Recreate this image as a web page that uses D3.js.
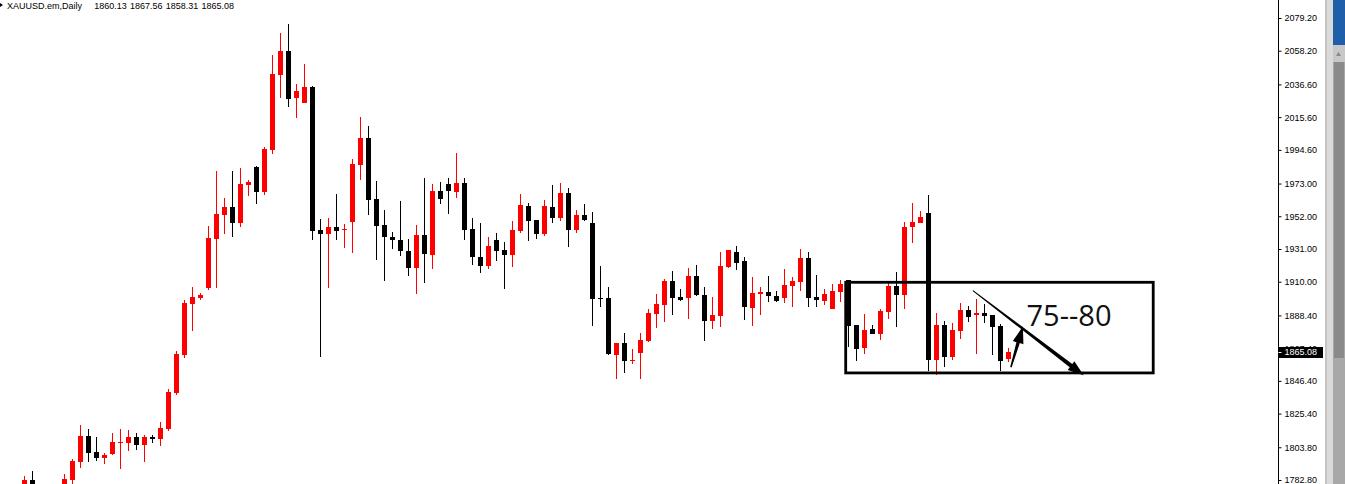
<!DOCTYPE html>
<html>
<head>
<meta charset="utf-8">
<script src="https://cdn.jsdelivr.net/npm/d3@7"></script>
<style>
html,body{margin:0;padding:0;background:#fff;overflow:hidden;}
svg{display:block;}
</style>
</head>
<body>
<svg id="chart" width="1345" height="484"></svg>
<script>
// ---- data (daily OHLC) ----
const opens = [1776.39,1782.80,1775.00,1771.00,1774.00,1777.00,1783.00,1794.54,1811.03,1800.76,
1797.11,1799.67,1806.73,1806.73,1810.39,1805.45,1810.39,1809.30,1815.71,1838.81,
1863.00,1895.91,1899.76,1905.98,1937.61,1953.01,1957.95,1947.87,1972.25,1983.61,
1967.38,1994.71,2042.82,2058.03,2028.07,2024.86,2034.93,1943.38,1940.82,1945.12,
1943.40,1948.52,1985.08,2002.21,1963.08,1946.40,1938.89,1936.78,1929.72,1919.00,
1939.98,1927.35,1968.21,1972.70,1967.76,1973.35,1943.83,1925.87,1920.29,1936.78,
1930.36,1927.35,1942.74,1958.59,1949.61,1940.82,1957.95,1951.08,1966.93,1943.38,
1952.81,1947.68,1899.70,1899.57,1863.00,1870.69,1859.40,1864.28,1871.98,1889.30,
1895.07,1910.47,1900.21,1899.57,1913.68,1901.49,1884.81,1888.02,1919.45,1929.07,
1923.30,1893.15,1902.33,1903.42,1900.85,1899.57,1907.26,1909.83,1925.23,1900.21,
1897.64,1892.51,1903.42,1911.11,1882.24,1867.49,1879.67,1876.47,1890.58,1907.26,
1901.49,1945.12,1947.68,1954.10,1859.79,1882.24,1861.71,1878.39,1891.87,1888.66,
1889.94,1888.66,1881.60,1860.13];
const highs = [1785.37,1788.58,1778.00,1776.00,1779.00,1786.46,1796.27,1818.09,1815.52,1810.39,
1800.12,1812.95,1815.52,1814.88,1812.95,1811.67,1811.67,1820.01,1841.18,1865.56,
1898.28,1906.62,1902.78,1945.76,1981.04,1963.72,1981.04,1982.97,1975.27,1984.45,
1996.44,2055.46,2069.58,2075.35,2036.86,2049.69,2035.57,1950.25,1950.89,1966.29,
1947.04,1988.74,2015.69,2009.91,1974.63,1956.02,1941.72,1961.79,1937.42,1946.40,
1976.55,1972.70,1973.99,1976.55,1992.60,1976.55,1950.89,1947.68,1938.70,1941.26,
1935.49,1948.97,1966.29,1960.51,1949.61,1962.44,1972.06,1973.35,1970.14,1956.02,
1959.87,1954.74,1920.09,1906.62,1870.69,1877.11,1866.84,1877.11,1892.51,1902.13,
1911.75,1916.88,1905.34,1918.81,1920.74,1906.62,1900.21,1929.07,1930.36,1932.93,
1925.87,1913.04,1906.62,1913.68,1904.06,1918.17,1913.04,1930.99,1929.07,1914.32,
1905.34,1908.55,1911.11,1911.11,1882.24,1889.30,1882.24,1892.51,1909.19,1916.24,
1948.33,1960.51,1955.38,1965.65,1889.94,1884.81,1883.53,1896.36,1894.43,1898.92,
1895.71,1888.66,1882.88,1867.56];
const lows = [1774.46,1773.18,1768.00,1766.00,1770.00,1775.00,1780.43,1790.69,1794.54,1795.18,
1793.26,1799.03,1790.05,1801.60,1802.24,1794.54,1806.73,1804.81,1814.43,1837.53,
1861.26,1878.39,1898.47,1904.89,1906.17,1940.62,1938.89,1945.31,1965.20,1960.06,
1965.84,1992.14,2028.07,2022.30,2015.24,2024.86,1936.97,1861.91,1906.17,1936.97,
1931.84,1928.63,1975.46,1953.01,1924.14,1910.66,1931.20,1926.70,1913.87,1902.32,
1909.38,1918.36,1960.06,1953.65,1963.91,1936.97,1920.93,1915.79,1918.36,1923.50,
1905.53,1919.64,1941.46,1936.33,1937.61,1939.54,1947.87,1949.16,1932.48,1941.46,
1949.16,1881.79,1893.98,1863.00,1847.79,1851.64,1857.41,1847.79,1871.34,1880.31,
1884.17,1888.66,1897.64,1886.09,1900.85,1871.98,1879.67,1880.96,1918.81,1917.53,
1885.45,1881.60,1888.66,1897.00,1897.00,1896.36,1893.79,1904.06,1893.79,1893.79,
1895.07,1892.51,1897.00,1868.32,1859.15,1863.64,1876.47,1872.62,1886.09,1880.96,
1892.51,1934.85,1947.68,1852.73,1850.16,1855.29,1859.79,1873.26,1884.17,1863.64,
1883.53,1863.00,1852.73,1858.31];
const closes = [1782.80,1775.10,1771.00,1774.00,1776.00,1783.43,1794.99,1811.03,1800.32,1797.11,
1798.84,1807.18,1807.37,1810.39,1805.45,1810.39,1809.30,1816.16,1839.26,1863.64,
1896.36,1900.21,1901.69,1938.06,1953.46,1957.95,1947.87,1972.70,1974.18,1967.76,
1995.16,2043.27,2058.03,2027.43,2032.37,2034.93,1942.74,1940.82,1945.12,1942.74,
1943.70,1985.53,2002.21,1962.63,1945.95,1938.89,1936.97,1929.91,1919.00,1939.98,
1928.00,1968.21,1963.27,1968.40,1973.35,1943.38,1926.06,1920.29,1932.93,1929.91,
1927.35,1943.19,1959.23,1949.16,1940.82,1958.59,1951.08,1966.93,1943.38,1952.81,
1949.80,1899.12,1899.40,1863.64,1870.69,1859.15,1859.80,1872.62,1889.94,1895.71,
1910.47,1899.57,1898.28,1913.68,1901.49,1884.81,1888.66,1920.09,1930.36,1922.01,
1893.79,1902.78,1903.42,1900.85,1897.64,1907.90,1910.47,1925.23,1899.57,1898.28,
1902.13,1904.06,1908.55,1881.79,1866.84,1879.04,1876.47,1891.22,1907.26,1901.49,
1945.12,1948.33,1951.53,1859.79,1882.24,1861.71,1879.04,1891.87,1887.38,1889.94,
1888.02,1880.96,1859.15,1865.08];
const tickValues = [2079.20,2058.20,2036.60,2015.60,1994.60,1973.00,1952.00,1931.00,1910.00,1888.40,1867.40,1846.40,1825.40,1803.80,1782.80];
const symbolTitle = "XAUUSD.em,Daily";
const titleValues = ["1860.13","1867.56","1858.31","1865.08"];
const lastPrice = 1865.08;
// annotation (bar index / price)
const boxRange = {i0: 102.65, i1: 141.09, p0: 1909.64, p1: 1851.5};
const longArrow = {i0: 118.55, p0: 1904.25, i1: 132.4, p1: 1850.0};
const shortArrow = {i0: 123.3, p0: 1855.1, i1: 124.8, p1: 1881.4};
const noteText = {i: 125.25, p: 1881.9, text: "75--80"};

// ---- scales ----
const W = 1345, H = 484, axisX = 1278.5;
const x = d3.scaleLinear().domain([0, 1]).range([24.5, 32.5]);
const y = d3.scaleLinear().domain([1782.8, 2079.2]).range([480, 18]);

const svg = d3.select("#chart");
svg.append("rect").attr("width", W).attr("height", H).attr("fill", "#fff");

const candles = opens.map((o, i) => ({i, o, h: highs[i], l: lows[i], c: closes[i]}));
const gC = svg.append("g").attr("clip-path", "url(#clip)");
svg.append("defs").append("clipPath").attr("id", "clip")
  .append("rect").attr("x", 0).attr("y", 0).attr("width", axisX - 0.5).attr("height", H);

const col = d => d.c > d.o ? "#ff0000" : "#000000";
gC.selectAll("rect.wick").data(candles).join("rect").attr("class", "wick")
  .attr("x", d => x(d.i) - 0.5)
  .attr("y", d => Math.round(y(d.h)))
  .attr("width", 1)
  .attr("height", d => Math.max(1, Math.round(y(d.l)) - Math.round(y(d.h))))
  .attr("fill", col);
gC.selectAll("rect.body").data(candles).join("rect").attr("class", "body")
  .attr("x", d => x(d.i) - 2.5)
  .attr("y", d => Math.round(y(Math.max(d.o, d.c))))
  .attr("width", 5)
  .attr("height", d => Math.max(1, Math.round(y(Math.min(d.o, d.c))) - Math.round(y(Math.max(d.o, d.c)))))
  .attr("fill", col);

// ---- annotations ----
const bx0 = x(boxRange.i0), bx1 = x(boxRange.i1), by0 = y(boxRange.p0), by1 = y(boxRange.p1);
gC.append("rect").attr("x", bx0).attr("y", by0).attr("width", bx1 - bx0).attr("height", by1 - by0)
  .attr("fill", "none").attr("stroke", "#000").attr("stroke-width", 2.8);

function arrowPoly(x0, y0, x1, y1, w0, w1, headLen, headHalf) {
  const dx = x1 - x0, dy = y1 - y0, len = Math.hypot(dx, dy);
  const ux = dx / len, uy = dy / len, nx = -uy, ny = ux;
  const bX = x1 - ux * headLen, bY = y1 - uy * headLen;
  const pts = [
    [x0 + nx * w0 / 2, y0 + ny * w0 / 2],
    [bX + nx * w1 / 2, bY + ny * w1 / 2],
    [bX + nx * headHalf, bY + ny * headHalf],
    [x1, y1],
    [bX - nx * headHalf, bY - ny * headHalf],
    [bX - nx * w1 / 2, bY - ny * w1 / 2],
    [x0 - nx * w0 / 2, y0 - ny * w0 / 2]
  ];
  return pts.map(p => p.join(",")).join(" ");
}
gC.append("polygon")
  .attr("points", arrowPoly(x(longArrow.i0), y(longArrow.p0), x(longArrow.i1), y(longArrow.p1), 1, 4.2, 16, 5.5))
  .attr("fill", "#000");
gC.append("polygon")
  .attr("points", arrowPoly(x(shortArrow.i0), y(shortArrow.p0), x(shortArrow.i1), y(shortArrow.p1), 1.5, 3.5, 17, 5.5))
  .attr("fill", "#000");
gC.append("text").attr("x", x(noteText.i)).attr("y", y(noteText.p))
  .attr("font-family", "'Open Sans', 'Noto Sans', sans-serif").attr("font-size", 29)
  .attr("fill", "#111").text(noteText.text);

// ---- right price axis ----
const axis = d3.axisRight(y).tickValues(tickValues).tickSize(3).tickPadding(3)
  .tickFormat(d => d.toFixed(2));
const gA = svg.append("g").attr("transform", `translate(${axisX},0)`).call(axis);
gA.select(".domain").remove();
gA.selectAll("line").attr("stroke", "#000");
gA.selectAll("text").attr("font-family", "'Liberation Sans', Arial, sans-serif")
  .attr("font-size", 9).attr("fill", "#000");
svg.append("line").attr("x1", axisX).attr("x2", axisX).attr("y1", 0).attr("y2", H)
  .attr("stroke", "#000").attr("stroke-width", 1);

// current price label (covers the 1867.40 tick label, as in the terminal)
const ly = y(lastPrice);
svg.append("rect").attr("x", 1279).attr("y", Math.round(ly) - 5).attr("width", 44).attr("height", 11).attr("fill", "#000");
svg.append("line").attr("x1", axisX).attr("x2", axisX + 3).attr("y1", Math.round(ly) + 0.5).attr("y2", Math.round(ly) + 0.5).attr("stroke", "#fff");
svg.append("text").attr("x", 1284.5).attr("y", Math.round(ly) + 0.5).attr("dy", "0.32em")
  .attr("font-family", "'Liberation Sans', Arial, sans-serif").attr("font-size", 9)
  .attr("fill", "#fff").text(lastPrice.toFixed(2));

// ---- title ----
svg.append("path").attr("d", "M0,3 L3,5 L0,7 Z").attr("fill", "#000");
const tf = "'Liberation Sans', Arial, sans-serif";
svg.append("text").attr("x", 7).attr("y", 9).attr("font-family", tf).attr("font-size", 9)
  .attr("fill", "#000").text(symbolTitle);
titleValues.forEach((v, k) => {
  svg.append("text").attr("x", 94.3 + k * 35.7).attr("y", 9).attr("font-family", tf).attr("font-size", 9)
    .attr("fill", "#000").text(v);
});

// ---- window edge / scrollbar ----
svg.append("rect").attr("x", 1325).attr("y", 0).attr("width", 2).attr("height", H).attr("fill", "#c4c4c4");
svg.append("rect").attr("x", 1327).attr("y", 0).attr("width", 6).attr("height", H).attr("fill", "#dadada");
svg.append("rect").attr("x", 1333).attr("y", 0).attr("width", 12).attr("height", H).attr("fill", "#a8a8a8");
svg.append("rect").attr("x", 1333).attr("y", 0).attr("width", 12).attr("height", 45).attr("fill", "#1f5ea8");
svg.append("rect").attr("x", 1333).attr("y", 45).attr("width", 12).attr("height", 17).attr("fill", "#c8c8c8");
svg.append("path").attr("d", "M1336,56 L1338.5,52 L1341,56 Z").attr("fill", "#888");
svg.append("rect").attr("x", 1334).attr("y", 62).attr("width", 10).attr("height", 296).attr("fill", "#8a8a8a");
</script>
</body>
</html>
